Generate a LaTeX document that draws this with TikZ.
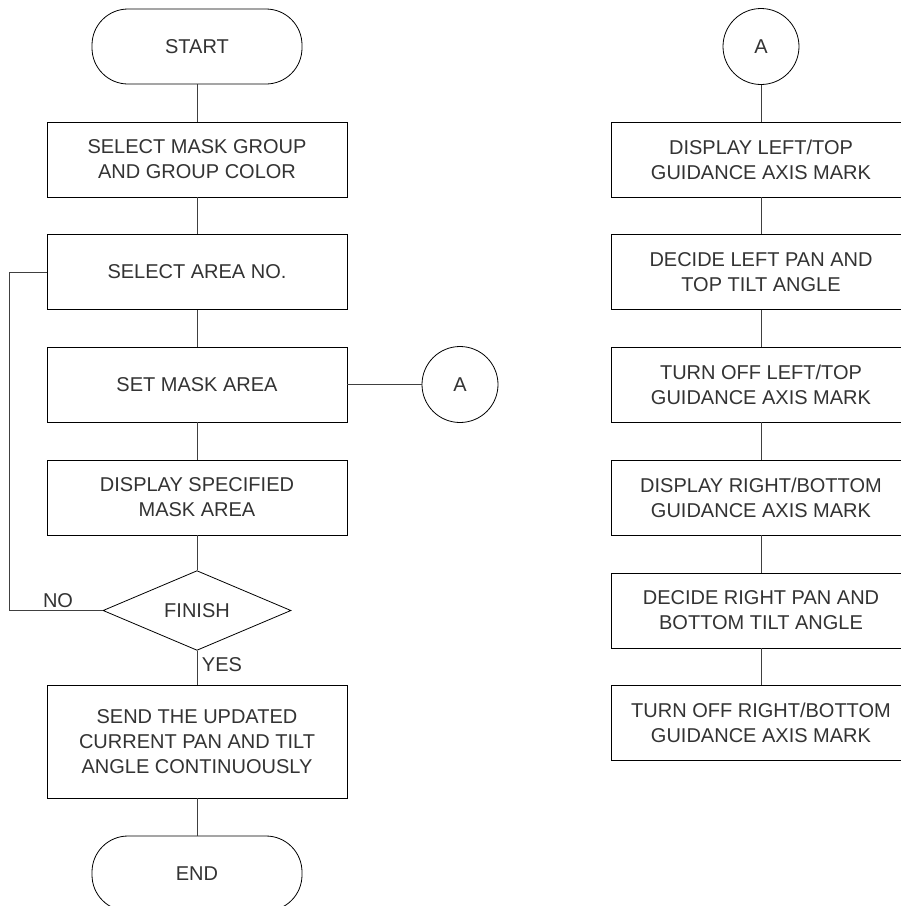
\documentclass[tikz,border=0pt]{standalone}
\usepackage{fontspec}
\setmainfont{Liberation Sans}
\usetikzlibrary{shapes.geometric}
\begin{document}
\begin{tikzpicture}[x=1pt,y=-1pt,
  every node/.style={font=\fontsize{20}{25}\selectfont, text=black!80, align=center, inner sep=0pt},
  termbox/.style={draw=black, line width=0.8pt, rectangle, rounded corners=36pt, minimum width=210pt, minimum height=75pt},
  procbox/.style={draw=black, line width=0.8pt, rectangle, minimum width=300pt, minimum height=75pt},
  tallbox/.style={procbox, minimum height=113pt},
  conn/.style={draw=black!75, line width=0.8pt},
  decbox/.style={draw=black, line width=0.8pt, diamond, minimum width=188pt, minimum height=75pt},
  circbox/.style={draw=black, line width=0.8pt, circle, minimum size=76pt}]
\clip (0,0) rectangle (901,906);
\fill[white] (0,0) rectangle (901,906);
% left column
\node[termbox] (start) at (197,46.5) {START};
\node[procbox] (b1) at (197,159.5) {SELECT MASK GROUP\\AND GROUP COLOR};
\node[procbox] (b2) at (197,272) {SELECT AREA NO.};
\node[procbox] (b3) at (197,384.5) {SET MASK AREA};
\node[procbox] (b4) at (197,497.5) {DISPLAY SPECIFIED\\MASK AREA};
\node[decbox] (d) at (197,610.5) {FINISH};
\node[tallbox] (b5) at (197,741.5) {SEND THE UPDATED\\CURRENT PAN AND TILT\\ANGLE CONTINUOUSLY};
\node[termbox] (end) at (197,873.5) {END};
\node[circbox] (a1) at (460,384.5) {A};
\coordinate (nocorner) at (9,610.5);
\node (nolbl) at (58,601) {NO};
\node (yeslbl) at (222,665) {YES};
\draw[conn] (start) -- (b1);
\draw[conn] (b1) -- (b2);
\draw[conn] (b2) -- (b3);
\draw[conn] (b3) -- (b4);
\draw[conn] (b4) -- (d);
\draw[conn] (d) -- (b5);
\draw[conn] (b5) -- (end);
\draw[conn] (b3.east) -- (a1.west);
\draw[conn] (d.west) -- (nocorner) |- (b2.west);
% right column
\node[circbox] (a2) at (761,46.5) {A};
\node[procbox] (r1) at (761,159.5) {DISPLAY LEFT/TOP\\GUIDANCE AXIS MARK};
\node[procbox] (r2) at (761,272) {DECIDE LEFT PAN AND\\TOP TILT ANGLE};
\node[procbox] (r3) at (761,384.5) {TURN OFF LEFT/TOP\\GUIDANCE AXIS MARK};
\node[procbox] (r4) at (761,497.5) {DISPLAY RIGHT/BOTTOM\\GUIDANCE AXIS MARK};
\node[procbox] (r5) at (761,610.5) {DECIDE RIGHT PAN AND\\BOTTOM TILT ANGLE};
\node[procbox] (r6) at (761,723) {TURN OFF RIGHT/BOTTOM\\GUIDANCE AXIS MARK};
\draw[conn] (a2) -- (r1);
\draw[conn] (r1) -- (r2);
\draw[conn] (r2) -- (r3);
\draw[conn] (r3) -- (r4);
\draw[conn] (r4) -- (r5);
\draw[conn] (r5) -- (r6);
\end{tikzpicture}
\end{document}
